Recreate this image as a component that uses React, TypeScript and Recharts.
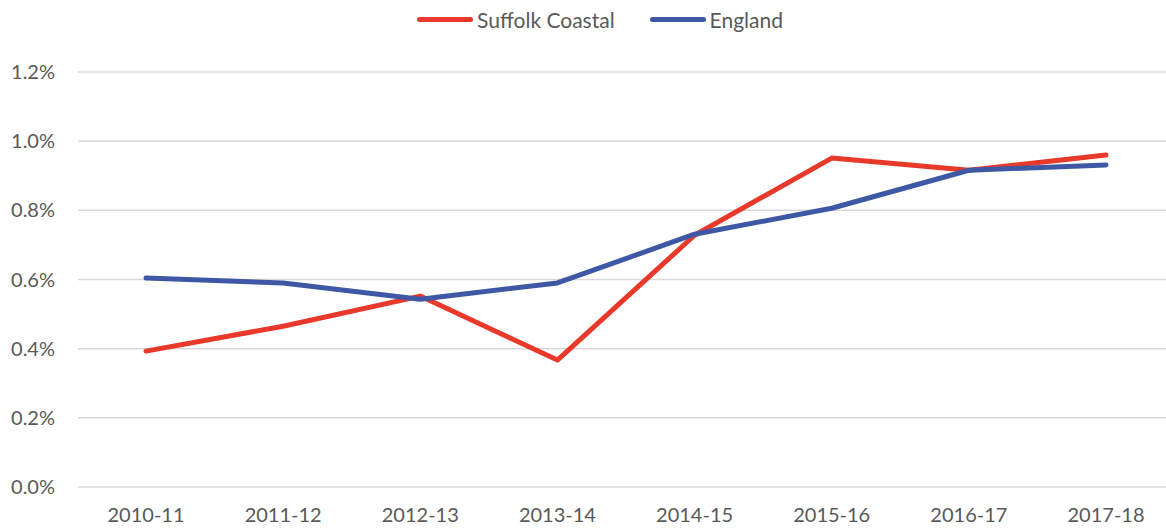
import { LineChart, Line, XAxis, YAxis, CartesianGrid, Legend } from "recharts";

const YEARS = ["2010-11", "2011-12", "2012-13", "2013-14", "2014-15", "2015-16", "2016-17", "2017-18"];
const SUFFOLK_COASTAL = [0.393, 0.465, 0.552, 0.367, 0.728, 0.951, 0.916, 0.96];
const ENGLAND = [0.604, 0.59, 0.543, 0.59, 0.731, 0.806, 0.916, 0.931];
const Y_TICKS = [0, 0.2, 0.4, 0.6, 0.8, 1.0, 1.2];

const RED = "#e8392b";
const BLUE = "#3e58a6";
const TEXT = "#595959";
const FONT = "Lato, 'Open Sans', sans-serif";

const data = YEARS.map((year, i) => ({
  year,
  suffolk: SUFFOLK_COASTAL[i],
  england: ENGLAND[i],
}));

const SERIES = [
  { key: "suffolk", name: "Suffolk Coastal", color: RED },
  { key: "england", name: "England", color: BLUE },
];

function LegendContent() {
  return (
    <div style={{ display: "flex", alignItems: "center", height: 24, fontFamily: FONT, fontSize: 21, color: TEXT }}>
      {SERIES.map((s) => (
        <div key={s.key} style={{ display: "flex", alignItems: "center", marginRight: 35 }}>
          <span
            style={{
              display: "inline-block",
              width: 56,
              height: 5,
              borderRadius: 3,
              background: s.color,
              marginRight: 4,
            }}
          />
          <span>{s.name}</span>
        </div>
      ))}
    </div>
  );
}

export default function App() {
  return (
    <div
      style={{
        position: "absolute",
        left: 0,
        top: 0,
        width: 1166,
        height: 530,
        overflow: "hidden",
        background: "#fff",
      }}
    >
      <LineChart width={1176} height={530} data={data} margin={{ top: 48, right: 2, bottom: 0, left: 0 }}>
        <CartesianGrid vertical={false} stroke="#d9d9d9" strokeWidth={1.5} />
        <XAxis
          dataKey="year"
          axisLine={false}
          tickLine={false}
          tickSize={0}
          tickMargin={21}
          height={43}
          padding={{ left: 68, right: 68 }}
          interval={0}
          tick={{ fill: TEXT, fontSize: 20, fontFamily: FONT }}
        />
        <YAxis
          width={78}
          domain={[0, 1.2]}
          ticks={Y_TICKS}
          axisLine={false}
          tickLine={false}
          tickSize={0}
          tickMargin={23}
          tickFormatter={(v: number) => `${v.toFixed(1)}%`}
          tick={{ fill: TEXT, fontSize: 20, fontFamily: FONT }}
        />
        <Legend
          verticalAlign="top"
          content={<LegendContent />}
          wrapperStyle={{ top: 7, left: 417, width: "auto" }}
        />
        {SERIES.map((s) => (
          <Line
            key={s.key}
            type="linear"
            dataKey={s.key}
            name={s.name}
            stroke={s.color}
            strokeWidth={5}
            strokeLinecap="round"
            strokeLinejoin="round"
            dot={false}
            activeDot={false}
            isAnimationActive={false}
          />
        ))}
      </LineChart>
    </div>
  );
}
